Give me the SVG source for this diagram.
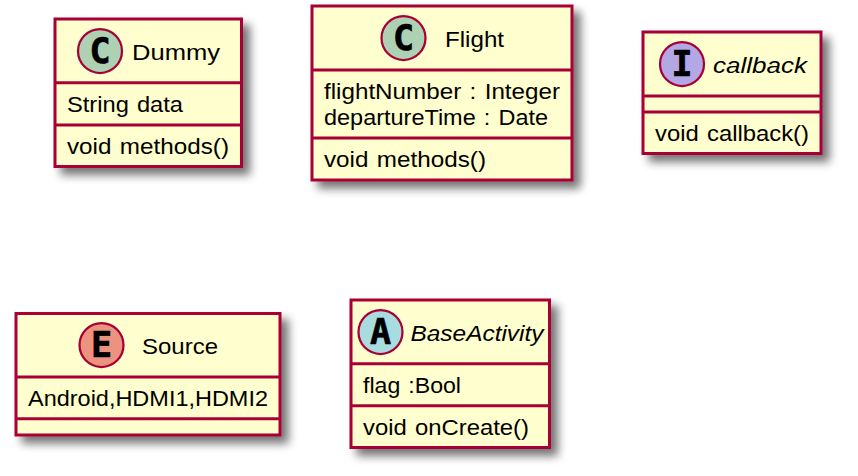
<svg xmlns="http://www.w3.org/2000/svg" width="858" height="476" viewBox="0 0 858 476">
<defs>
<filter id="sh" x="-20%" y="-20%" width="150%" height="150%"><feGaussianBlur in="SourceAlpha" stdDeviation="5"/><feOffset dx="7" dy="7"/><feComponentTransfer><feFuncA type="linear" slope="0.55"/></feComponentTransfer><feMerge><feMergeNode/><feMergeNode in="SourceGraphic"/></feMerge></filter>
</defs>
<style>
rect{fill:#FEFECE;stroke:#A80036;stroke-width:3;filter:url(#sh)}
line{stroke:#A80036;stroke-width:3}
circle{stroke:#A80036;stroke-width:2.25}
text{font-family:"Liberation Sans",Arial,sans-serif;font-size:22px;fill:#000;word-spacing:1.5px}
.i{font-style:italic}
.g{font-family:"DejaVu Sans Mono","Liberation Mono",monospace;font-weight:bold;font-size:35px;text-anchor:middle;stroke:#000;stroke-width:.7px}
</style>
<g id="connectors"/>
<g id="Dummy">
<rect x="55" y="19" width="186.500" height="147.500"/>
<line x1="55" y1="82.700" x2="241.500" y2="82.700"/><line x1="55" y1="125" x2="241.500" y2="125"/>
<circle cx="100" cy="51" r="22" fill="#ADD1B2"/><text class="g" x="100" y="63">C</text>
<text x="132" y="59.500" textLength="88" lengthAdjust="spacingAndGlyphs">Dummy</text>
<text x="67" y="112" textLength="116" lengthAdjust="spacingAndGlyphs">String data</text>
<text x="67" y="154" textLength="162" lengthAdjust="spacingAndGlyphs">void methods()</text>
</g>
<g id="Flight">
<rect x="312" y="6" width="260" height="174"/>
<line x1="312" y1="70" x2="572" y2="70"/><line x1="312" y1="138" x2="572" y2="138"/>
<circle cx="403.500" cy="38" r="22" fill="#ADD1B2"/><text class="g" x="403.500" y="50">C</text>
<text x="445" y="46.500" textLength="59" lengthAdjust="spacingAndGlyphs">Flight</text>
<text x="324" y="99" textLength="236" lengthAdjust="spacingAndGlyphs">flightNumber : Integer</text>
<text x="324" y="125" textLength="224" lengthAdjust="spacingAndGlyphs">departureTime : Date</text>
<text x="324" y="167" textLength="162" lengthAdjust="spacingAndGlyphs">void methods()</text>
</g>
<g id="callback">
<rect x="643" y="32" width="178" height="121.500"/>
<line x1="643" y1="96" x2="821" y2="96"/><line x1="643" y1="112" x2="821" y2="112"/>
<circle cx="682" cy="64" r="22" fill="#B4A7E5"/><text class="g" x="682" y="76">I</text>
<text class="i" x="713" y="72.500" textLength="94" lengthAdjust="spacingAndGlyphs">callback</text>
<text x="655" y="141" textLength="154" lengthAdjust="spacingAndGlyphs">void callback()</text>
</g>
<g id="Source">
<rect x="16" y="313.500" width="264" height="121.500"/>
<line x1="16" y1="377" x2="280" y2="377"/><line x1="16" y1="418.700" x2="280" y2="418.700"/>
<circle cx="101.500" cy="345" r="22" fill="#EB937F"/><text class="g" x="101.500" y="357">E</text>
<text x="142" y="353.500" textLength="76" lengthAdjust="spacingAndGlyphs">Source</text>
<text x="28" y="406" textLength="240" lengthAdjust="spacingAndGlyphs">Android,HDMI1,HDMI2</text>
</g>
<g id="BaseActivity">
<rect x="351" y="300" width="198.500" height="147.500"/>
<line x1="351" y1="363.700" x2="549.500" y2="363.700"/><line x1="351" y1="405.700" x2="549.500" y2="405.700"/>
<circle cx="380.500" cy="332" r="22" fill="#A9DCDF"/><text class="g" x="380.500" y="344">A</text>
<text class="i" x="410.500" y="340.500" textLength="133" lengthAdjust="spacingAndGlyphs">BaseActivity</text>
<text x="363" y="393" textLength="98" lengthAdjust="spacingAndGlyphs">flag :Bool</text>
<text x="363" y="435" textLength="166" lengthAdjust="spacingAndGlyphs">void onCreate()</text>
</g>
</svg>
